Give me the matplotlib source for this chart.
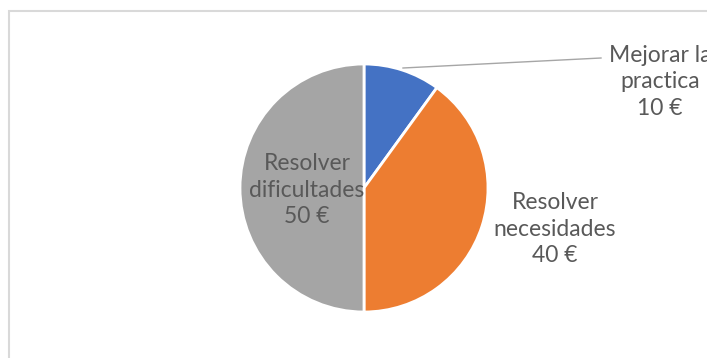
import matplotlib.pyplot as plt
from matplotlib.patches import Rectangle
from matplotlib.lines import Line2D

labels = ["Mejorar la\npractica", "Resolver\nnecesidades", "Resolver\ndificultades"]
values = [10, 40, 50]
colors = ["#4472C4", "#ED7D31", "#A5A5A5"]

W, H = 707, 358
fig = plt.figure(figsize=(W / 100, H / 100), dpi=100)

# pie placed in pixel space: center (364, 188), radius 124
cx, cy, r = 364, 188, 124
ax = fig.add_axes([(cx - r) / W, (H - cy - r) / H, 2 * r / W, 2 * r / H])
ax.pie(values, colors=colors, startangle=90, counterclock=False, radius=1,
       wedgeprops=dict(edgecolor="white", linewidth=2))
ax.set_xlim(-1, 1)
ax.set_ylim(-1, 1)
ax.set_aspect("equal")
ax.axis("off")

def px(x, y):
    return x / W, 1 - y / H

# chart border
fig.patches.append(Rectangle(px(9, 400), 720 / W, 389 / H, transform=fig.transFigure,
                             fill=False, edgecolor="#D9D9D9", linewidth=1.5))

# leader line for the small slice
(x0, y0), (x1, y1) = px(403, 68), px(601, 58)
fig.lines.append(Line2D([x0, x1], [y0, y1], transform=fig.transFigure,
                        color="#A6A6A6", linewidth=1))

# the first label runs off the right edge, as in the original
label_pos = [(660, 82), (555, 229), (307, 190)]
for lab, v, (x, y) in zip(labels, values, label_pos):
    fig.text(*px(x, y), f"{lab}\n{v} €", ha="center", va="center",
             fontsize=16.5, color="#595959", family="Lato", linespacing=1.32)

fig.savefig("out.png", dpi=100)
